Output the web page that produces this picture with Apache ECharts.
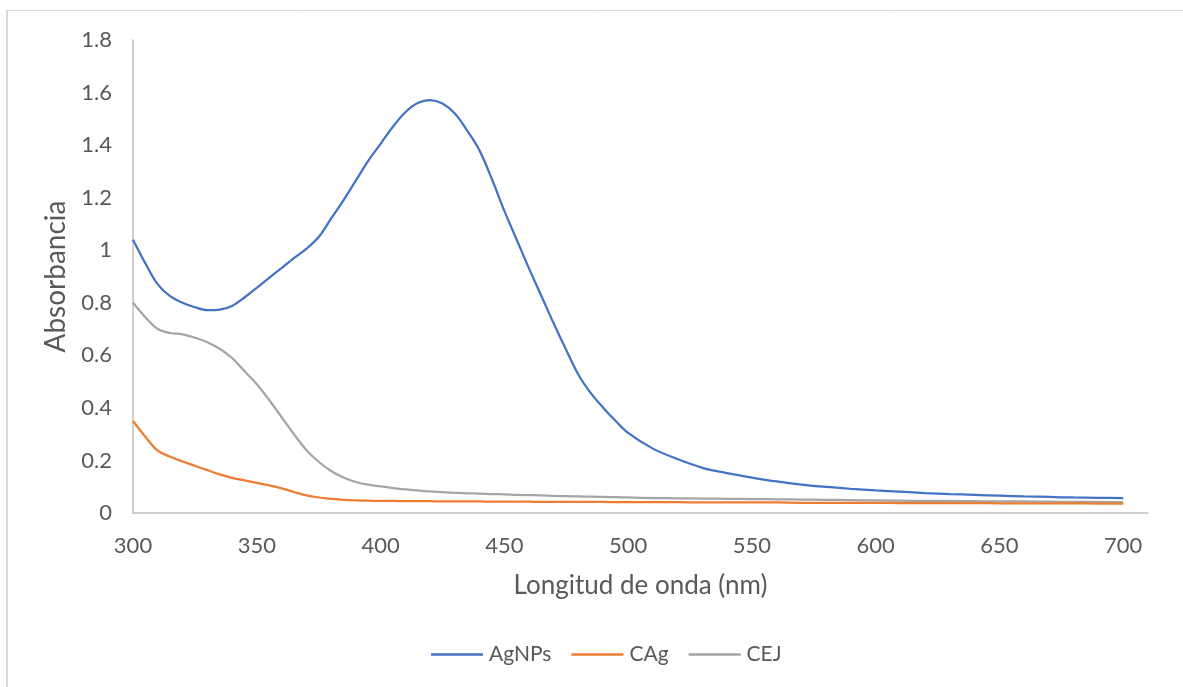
<!DOCTYPE html>
<html>
<head>
<meta charset="utf-8">
<script src="https://cdn.jsdelivr.net/npm/echarts@6/dist/echarts.min.js"></script>
<style>
  html, body { margin: 0; padding: 0; background: #ffffff; }
  #chart { width: 1183px; height: 687px; }
</style>
</head>
<body>
<div id="chart"></div>
<script>
// Wavelength grid (nm): 5 nm steps up to 500, then 10 nm steps
const wavelengths = [
  300, 305, 310, 315, 320, 325, 330, 335, 340, 345,
  350, 355, 360, 365, 370, 375, 380, 385, 390, 395,
  400, 405, 410, 415, 420, 425, 430, 435, 440, 445,
  450, 455, 460, 465, 470, 475, 480, 485, 490, 495,
  500, 510, 520, 530, 540, 550, 560, 570, 580, 590,
  600, 610, 620, 630, 640, 650, 660, 670, 680, 690, 700
];

// Absorbance spectra
const agnps = [
  1.04, 0.95, 0.87, 0.825, 0.80, 0.783, 0.772, 0.774, 0.788, 0.82,
  0.857, 0.895, 0.932, 0.97, 1.005, 1.05, 1.12, 1.19, 1.265, 1.34,
  1.405, 1.47, 1.525, 1.56, 1.571, 1.558, 1.52, 1.455, 1.379, 1.27,
  1.15, 1.04, 0.93, 0.825, 0.72, 0.62, 0.525, 0.455, 0.40, 0.35,
  0.305, 0.245, 0.205, 0.172, 0.152, 0.135, 0.12, 0.108, 0.099, 0.092,
  0.086, 0.081, 0.076, 0.072, 0.069, 0.066, 0.063, 0.061, 0.059, 0.058, 0.057
];

const cag = [
  0.35, 0.29, 0.237, 0.214, 0.196, 0.18, 0.163, 0.147, 0.134, 0.124,
  0.115, 0.105, 0.094, 0.08, 0.067, 0.059, 0.054, 0.05, 0.048, 0.047,
  0.046, 0.046, 0.045, 0.045, 0.045, 0.044, 0.044, 0.044, 0.044, 0.043,
  0.043, 0.043, 0.043, 0.042, 0.042, 0.042, 0.042, 0.042, 0.042, 0.041,
  0.041, 0.041, 0.041, 0.040, 0.040, 0.040, 0.040, 0.039, 0.039, 0.039,
  0.039, 0.038, 0.038, 0.038, 0.038, 0.037, 0.037, 0.037, 0.037, 0.036, 0.036
];

const cej = [
  0.80, 0.745, 0.70, 0.685, 0.68, 0.667, 0.65, 0.625, 0.59, 0.54,
  0.49, 0.43, 0.365, 0.30, 0.24, 0.195, 0.16, 0.135, 0.118, 0.108,
  0.101, 0.095, 0.09, 0.086, 0.082, 0.079, 0.077, 0.075, 0.074, 0.072,
  0.071, 0.069, 0.068, 0.067, 0.065, 0.064, 0.063, 0.062, 0.061, 0.060,
  0.059, 0.057, 0.056, 0.055, 0.054, 0.053, 0.052, 0.051, 0.050, 0.049,
  0.048, 0.047, 0.046, 0.046, 0.045, 0.044, 0.044, 0.043, 0.042, 0.042, 0.041
];

const seriesNames = ['AgNPs', 'CAg', 'CEJ'];
const seriesColors = ['#4472C4', '#ED7D31', '#A5A5A5'];
const seriesValues = [agnps, cag, cej];

const FONT = 'Lato, "Open Sans", sans-serif';
const TEXT = '#595959';
const AXIS = '#BFBFBF';

const chart = echarts.init(document.getElementById('chart'), null, { renderer: 'canvas' });

chart.setOption({
  backgroundColor: '#ffffff',
  animation: false,
  textStyle: { fontFamily: FONT, color: TEXT },
  graphic: [
    { type: 'line', shape: { x1: 6, y1: 10.5, x2: 1183, y2: 10.5 },
      style: { stroke: '#D9D9D9', lineWidth: 1 }, silent: true },
    { type: 'line', shape: { x1: 7, y1: 10, x2: 7, y2: 687 },
      style: { stroke: '#D9D9D9', lineWidth: 2 }, silent: true }
  ],
  grid: { left: 133, right: 35, top: 40, bottom: 174, containLabel: false },
  legend: {
    data: seriesNames,
    top: 644,
    left: 431,
    padding: 0,
    icon: 'rect',
    itemWidth: 52,
    itemHeight: 2.5,
    itemGap: 20,
    textStyle: { fontFamily: FONT, fontSize: 21, color: TEXT, padding: [0, 0, 0, 1] }
  },
  xAxis: {
    type: 'value',
    min: 300,
    max: 710,
    interval: 50,
    name: 'Longitud de onda (nm)',
    nameLocation: 'middle',
    nameGap: 60,
    nameTextStyle: { fontFamily: FONT, fontSize: 26, color: TEXT },
    axisLine: { show: true, onZero: false, lineStyle: { color: AXIS, width: 1.5 } },
    axisTick: { show: false },
    splitLine: { show: false },
    axisLabel: {
      showMaxLabel: false,
      margin: 22,
      fontFamily: FONT, fontSize: 22, color: TEXT
    }
  },
  yAxis: {
    type: 'value',
    min: 0,
    max: 1.8,
    interval: 0.2,
    name: 'Absorbancia',
    nameLocation: 'middle',
    nameGap: 58,
    nameTextStyle: { fontFamily: FONT, fontSize: 28, color: TEXT },
    axisLine: { show: true, lineStyle: { color: AXIS, width: 1.5 } },
    axisTick: { show: false },
    splitLine: { show: false },
    axisLabel: {
      margin: 21,
      fontFamily: FONT, fontSize: 22, color: TEXT,
      formatter: v => String(Math.round(v * 10) / 10)
    }
  },
  series: seriesNames.map((name, k) => ({
    name,
    type: 'line',
    data: wavelengths.map((w, i) => [w, seriesValues[k][i]]),
    smooth: 0.35,
    symbol: 'none',
    lineStyle: { color: seriesColors[k], width: 2.25 },
    itemStyle: { color: seriesColors[k] },
    z: 3 - k
  }))
});
</script>
</body>
</html>
